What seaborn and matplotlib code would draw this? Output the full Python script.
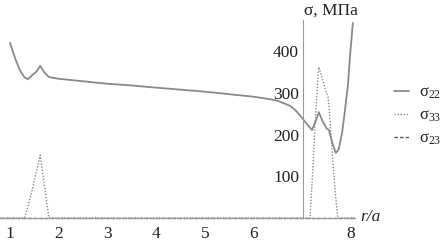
import numpy as np
import pandas as pd
import matplotlib
matplotlib.use("Agg")
import matplotlib.pyplot as plt
import seaborn as sns
from matplotlib.lines import Line2D

sns.set_theme(style="white")
plt.rcParams['font.family'] = ['Liberation Serif', 'DejaVu Serif']
plt.rcParams['mathtext.fontset'] = 'custom'
plt.rcParams['mathtext.rm'] = 'Liberation Serif'
plt.rcParams['mathtext.it'] = 'Liberation Serif:italic'

# sigma_22
x22 = [1.0, 1.1, 1.2, 1.3, 1.37, 1.45, 1.55, 1.62, 1.7, 1.8, 2.0, 2.5, 3.0, 3.5, 3.87, 4.5, 5.0, 5.5,
       6.0, 6.34, 6.5, 6.65, 6.75, 6.85, 6.95, 7.05, 7.15, 7.2, 7.27, 7.34, 7.42, 7.5, 7.55, 7.62, 7.69,
       7.75, 7.82, 7.88, 7.94, 7.98, 8.04]
y22 = [420, 385, 355, 337, 333, 342, 352, 365, 350, 338, 334, 328, 322, 318, 314, 308, 303, 297,
       291, 285, 281, 274, 269, 260, 247, 232, 218, 211, 230, 254, 232, 215, 211, 180, 156,
       165, 205, 260, 320, 386, 468]
# sigma_33
x33 = [0.8, 1.3, 1.35, 1.45, 1.55, 1.62, 1.68, 1.75, 1.8, 7.16, 7.22, 7.28, 7.34, 7.4, 7.47, 7.53,
       7.56, 7.62, 7.68, 7.73, 8.08]
y33 = [0, 0, 20, 65, 115, 151, 100, 40, 0, 0, 120, 260, 362, 340, 310, 290, 252, 150, 60, 0, 0]
# sigma_23
x23 = [0.8, 8.08]
y23 = [0, 0]

xticks = [1, 2, 3, 4, 5, 6, 8]
yticks = [100, 200, 300, 400]

df22 = pd.DataFrame({"r": x22, "s": y22})
df33 = pd.DataFrame({"r": x33, "s": y33})
df23 = pd.DataFrame({"r": x23, "s": y23})

fig = plt.figure(figsize=(4.44, 2.41), dpi=100)
ax = fig.add_axes([0.0, (241 - 218) / 241, 355 / 444, 198 / 241])

gray = "#8a8a8a"
sns.lineplot(data=df22, x="r", y="s", ax=ax, color=gray, lw=1.3, clip_on=False)
sns.lineplot(data=df33, x="r", y="s", ax=ax, color=gray, lw=1.0, linestyle=(0, (1, 1.2)), clip_on=False)
sns.lineplot(data=df23, x="r", y="s", ax=ax, color="#555555", lw=1.0, linestyle=(0, (2.5, 1.5)), clip_on=False)

ax.set_xlim(1 - 10 / 48.7, 1 + 345 / 48.7)
ax.set_ylim(0, 475)
ax.set_xlabel("")
ax.set_ylabel("")

ax.spines['left'].set_position(('data', 7.02))
ax.spines['bottom'].set_position(('data', 0))
ax.spines['right'].set_visible(False)
ax.spines['top'].set_visible(False)
for s in ('left', 'bottom'):
    ax.spines[s].set_color("#9a9a9a")
    ax.spines[s].set_linewidth(0.8)

ax.set_xticks(xticks)
ax.set_xticklabels([str(t) for t in xticks])
ax.set_yticks(yticks)
ax.set_yticklabels([str(t) for t in yticks])
ax.tick_params(axis='both', length=0, labelsize=12.5, colors="#222222", pad=6)
ax.tick_params(axis='y', pad=3)
ax.patch.set_alpha(0)

fig.text(304 / 444, 1 - 11 / 241, "σ, МПа", fontsize=12.5, color="#222222", va="center", ha="left")
fig.text(360 / 444, 1 - 217 / 241, "r/a", fontsize=12.5, style="italic", color="#222222", va="center", ha="left")

handles = [Line2D([], [], color=gray, lw=1.3),
           Line2D([], [], color=gray, lw=1.0, linestyle=(0, (1, 1.2))),
           Line2D([], [], color="#555555", lw=1.0, linestyle=(0, (2.5, 1.5)))]
labels = [r"$\mathrm{\sigma}_{22}$", r"$\mathrm{\sigma}_{33}$", r"$\mathrm{\sigma}_{23}$"]
fig.legend(handles, labels, loc="center left", bbox_to_anchor=(394 / 444, 1 - 116 / 241),
           frameon=False, fontsize=12, handlelength=0.9, handletextpad=0.6,
           labelspacing=0.4, borderpad=0, borderaxespad=0, labelcolor="#222222")

fig.savefig("out.png", dpi=100)
